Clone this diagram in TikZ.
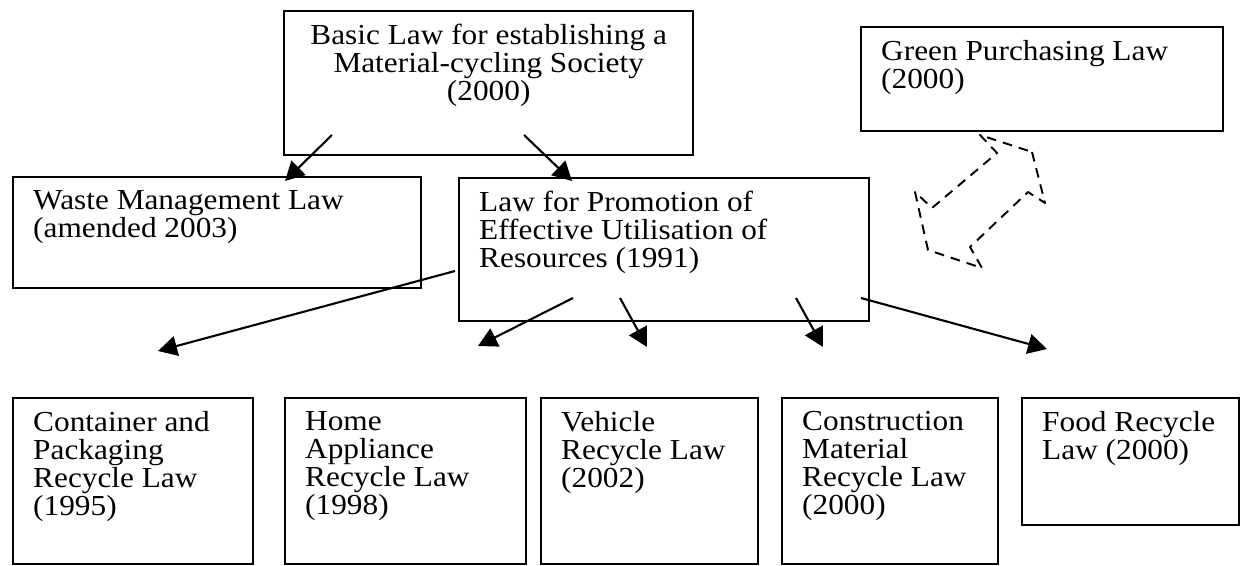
\documentclass[tikz,border=0pt]{standalone}
\usepackage{fontspec}
\setmainfont{Liberation Serif}[FakeStretch=1.08]
\usetikzlibrary{arrows.meta}

\tikzset{
  law/.style={draw, line width=1.4pt, anchor=north west, inner xsep=0.4cm, inner ysep=0.26cm},
  link/.style={line width=1.2pt, -{Triangle[length=0.38cm,width=0.4cm]}},
  swap/.style={line width=1.1pt, dash pattern=on 5.5pt off 4pt, line join=round}
}
\newcommand{\lawtext}[3]{\parbox[t][#2][t]{#1}{\lineskiplimit=-100pt\strut #3}}

\begin{document}
\begin{tikzpicture}[x=0.02cm, y=-0.02cm, font=\fontsize{16.5}{15.9}\selectfont]

  \useasboundingbox (0,0) rectangle (1243,565);

  % top row
  \node [law] (basic) at (283,  10)  {\lawtext{7.38cm}{2.36cm}{\centering Basic Law for establishing a\\Material-cycling Society\\(2000)}};
  \node [law] (green) at (860,  26)  {\lawtext{6.44cm}{1.56cm}{Green Purchasing Law\\(2000)}};

  % middle row
  \node [law] (waste) at (12,   176) {\lawtext{7.36cm}{1.70cm}{Waste Management Law\\(amended 2003)}};
  \node [law] (promo) at (458,  177) {\lawtext{7.40cm}{2.34cm}{Law for Promotion of\\Effective Utilisation of\\Resources (1991)}};

  % recycle laws
  \node [law] (cont)  at (12,   397) {\lawtext{4.00cm}{2.80cm}{Container and\\Packaging\\Recycle Law\\(1995)}};
  \node [law] (home)  at (284,  397) {\lawtext{4.02cm}{2.80cm}{Home\\Appliance\\Recycle Law\\(1998)}};
  \node [law] (vehi)  at (540,  397) {\lawtext{3.54cm}{2.80cm}{Vehicle\\Recycle Law\\(2002)}};
  \node [law] (cons)  at (781,  397) {\lawtext{3.52cm}{2.80cm}{Construction\\Material\\Recycle Law\\(2000)}};
  \node [law] (food)  at (1021, 397) {\lawtext{3.54cm}{2.02cm}{Food Recycle\\Law (2000)}};

  % arrow ends
  \coordinate (basic-l) at (332,  135);
  \coordinate (basic-r) at (524,  135);
  \coordinate (waste-in) at (285, 181);
  \coordinate (promo-in) at (572, 181);
  \coordinate (promo-1) at (455,  271);
  \coordinate (promo-2) at (573,  298);
  \coordinate (promo-3) at (620,  298);
  \coordinate (promo-4) at (796,  298);
  \coordinate (promo-5) at (861,  298);
  \coordinate (cont-in) at (158,  351);
  \coordinate (home-in) at (478,  346);
  \coordinate (vehi-in) at (647,  347);
  \coordinate (cons-in) at (823,  347);
  \coordinate (food-in) at (1047, 349);

  % arrows
  \draw [link] (basic-l) -- (waste-in);
  \draw [link] (basic-r) -- (promo-in);
  \draw [link] (promo-1) -- (cont-in);
  \draw [link] (promo-2) -- (home-in);
  \draw [link] (promo-3) -- (vehi-in);
  \draw [link] (promo-4) -- (cons-in);
  \draw [link] (promo-5) -- (food-in);

  % dashed double arrow
  \draw [swap] (1032,152) -- (1045,203) -- (1028,192) -- (970,247) -- (982,268)
               -- (928,250) -- (915,192) -- (932,208) -- (997,153) -- (980,135) -- cycle;

\end{tikzpicture}
\end{document}
